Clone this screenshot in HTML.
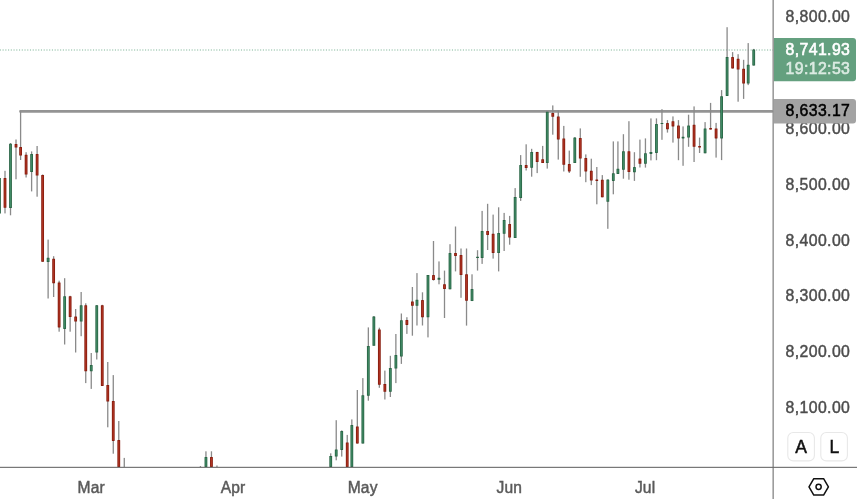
<!DOCTYPE html>
<html lang="en">
<head>
<meta charset="utf-8">
<title>Chart</title>
<style>
html,body{margin:0;padding:0;background:#fff;}
body{width:857px;height:499px;overflow:hidden;position:relative;font-family:"Liberation Sans",sans-serif;}
svg{display:block;position:absolute;left:0;top:0;}
text{font-family:"Liberation Sans",sans-serif;letter-spacing:0.4px;}
.ax{font-size:15.8px;fill:#4d4d4d;stroke:#4d4d4d;stroke-width:0.45;}
.tm{font-size:15.6px;letter-spacing:0.15px;fill:#5a5a5a;stroke:#5a5a5a;stroke-width:0.45;}
.btn{font-size:17.5px;fill:#111;stroke:#111;stroke-width:0.5;}
</style>
</head>
<body>
<svg width="857" height="499" viewBox="0 0 857 499">
<rect x="0" y="0" width="857" height="499" fill="#ffffff"/>
<!-- last price dotted line -->
<line x1="-0.18" y1="50" x2="773" y2="50" stroke="#7fb598" stroke-width="1" stroke-dasharray="1.1 1.64"/>
<!-- horizontal ray -->
<rect x="19.2" y="110.1" width="754" height="2.6" rx="1" fill="#949494"/>
<g fill="#8a8a8a">
<rect x="-1.16" y="178.0" width="1.3" height="35.5"/>
<rect x="4.35" y="170.8" width="1.3" height="42.6"/>
<rect x="9.86" y="143.0" width="1.3" height="72.3"/>
<rect x="15.36" y="139.5" width="1.3" height="39.8"/>
<rect x="19.95" y="111.4" width="1.3" height="48.6"/>
<rect x="25.45" y="152.2" width="1.3" height="25.3"/>
<rect x="30.96" y="151.4" width="1.3" height="40.0"/>
<rect x="36.46" y="146.0" width="1.3" height="50.7"/>
<rect x="41.97" y="174.5" width="1.3" height="87.3"/>
<rect x="47.47" y="239.6" width="1.3" height="58.9"/>
<rect x="52.98" y="256.2" width="1.3" height="40.8"/>
<rect x="58.48" y="280.7" width="1.3" height="51.0"/>
<rect x="63.99" y="278.2" width="1.3" height="66.3"/>
<rect x="69.49" y="295.8" width="1.3" height="35.9"/>
<rect x="75.00" y="309.0" width="1.3" height="43.5"/>
<rect x="80.51" y="292.0" width="1.3" height="44.2"/>
<rect x="85.09" y="303.3" width="1.3" height="79.8"/>
<rect x="90.60" y="353.0" width="1.3" height="35.9"/>
<rect x="96.10" y="305.0" width="1.3" height="54.5"/>
<rect x="101.61" y="304.8" width="1.3" height="81.1"/>
<rect x="107.11" y="362.0" width="1.3" height="65.3"/>
<rect x="112.62" y="375.1" width="1.3" height="78.6"/>
<rect x="118.12" y="421.0" width="1.3" height="46.0"/>
<rect x="123.63" y="457.9" width="1.3" height="9.1"/>
<rect x="199.78" y="466.0" width="1.3" height="1.0"/>
<rect x="205.29" y="451.3" width="1.3" height="15.7"/>
<rect x="210.80" y="451.3" width="1.3" height="15.7"/>
<rect x="216.30" y="465.5" width="1.3" height="1.5"/>
<rect x="330.07" y="453.3" width="1.3" height="13.7"/>
<rect x="335.58" y="420.2" width="1.3" height="40.1"/>
<rect x="341.08" y="430.4" width="1.3" height="26.2"/>
<rect x="346.59" y="434.9" width="1.3" height="32.1"/>
<rect x="351.18" y="419.4" width="1.3" height="47.6"/>
<rect x="356.68" y="390.0" width="1.3" height="53.6"/>
<rect x="362.19" y="378.1" width="1.3" height="65.5"/>
<rect x="367.69" y="327.4" width="1.3" height="73.3"/>
<rect x="373.20" y="316.0" width="1.3" height="29.7"/>
<rect x="378.70" y="327.7" width="1.3" height="60.1"/>
<rect x="384.21" y="370.6" width="1.3" height="28.9"/>
<rect x="389.71" y="355.8" width="1.3" height="41.2"/>
<rect x="395.22" y="334.0" width="1.3" height="49.1"/>
<rect x="400.72" y="313.5" width="1.3" height="50.4"/>
<rect x="406.23" y="317.2" width="1.3" height="16.7"/>
<rect x="411.74" y="287.0" width="1.3" height="48.7"/>
<rect x="416.32" y="273.1" width="1.3" height="52.4"/>
<rect x="421.83" y="292.3" width="1.3" height="33.2"/>
<rect x="427.33" y="275.0" width="1.3" height="62.4"/>
<rect x="432.84" y="241.0" width="1.3" height="39.6"/>
<rect x="438.34" y="261.4" width="1.3" height="22.9"/>
<rect x="443.85" y="270.6" width="1.3" height="47.4"/>
<rect x="449.35" y="244.2" width="1.3" height="45.1"/>
<rect x="454.86" y="226.5" width="1.3" height="44.9"/>
<rect x="460.36" y="248.5" width="1.3" height="49.3"/>
<rect x="465.87" y="248.5" width="1.3" height="77.1"/>
<rect x="471.37" y="274.3" width="1.3" height="26.8"/>
<rect x="476.88" y="250.2" width="1.3" height="20.4"/>
<rect x="481.47" y="210.9" width="1.3" height="53.0"/>
<rect x="486.97" y="203.8" width="1.3" height="46.2"/>
<rect x="492.48" y="214.6" width="1.3" height="44.0"/>
<rect x="497.98" y="207.3" width="1.3" height="64.1"/>
<rect x="503.49" y="212.9" width="1.3" height="38.1"/>
<rect x="508.99" y="215.9" width="1.3" height="28.8"/>
<rect x="514.50" y="188.1" width="1.3" height="49.9"/>
<rect x="520.00" y="155.1" width="1.3" height="45.8"/>
<rect x="525.51" y="144.3" width="1.3" height="26.2"/>
<rect x="531.01" y="148.8" width="1.3" height="27.9"/>
<rect x="536.52" y="151.8" width="1.3" height="21.3"/>
<rect x="542.02" y="145.9" width="1.3" height="17.1"/>
<rect x="546.61" y="111.7" width="1.3" height="56.9"/>
<rect x="552.12" y="105.4" width="1.3" height="29.3"/>
<rect x="557.62" y="110.4" width="1.3" height="49.2"/>
<rect x="563.13" y="125.9" width="1.3" height="45.6"/>
<rect x="568.63" y="150.6" width="1.3" height="22.4"/>
<rect x="574.14" y="137.2" width="1.3" height="25.8"/>
<rect x="579.64" y="128.4" width="1.3" height="48.4"/>
<rect x="585.15" y="154.4" width="1.3" height="27.8"/>
<rect x="590.65" y="158.7" width="1.3" height="26.4"/>
<rect x="596.16" y="167.0" width="1.3" height="37.3"/>
<rect x="601.66" y="175.1" width="1.3" height="22.2"/>
<rect x="607.17" y="179.6" width="1.3" height="49.2"/>
<rect x="612.67" y="141.4" width="1.3" height="52.9"/>
<rect x="617.26" y="141.4" width="1.3" height="32.5"/>
<rect x="622.77" y="134.2" width="1.3" height="44.5"/>
<rect x="628.27" y="121.2" width="1.3" height="58.5"/>
<rect x="633.78" y="152.2" width="1.3" height="28.7"/>
<rect x="639.28" y="139.6" width="1.3" height="27.9"/>
<rect x="644.79" y="138.4" width="1.3" height="29.2"/>
<rect x="650.29" y="118.4" width="1.3" height="42.0"/>
<rect x="655.80" y="118.4" width="1.3" height="41.8"/>
<rect x="661.30" y="109.2" width="1.3" height="30.6"/>
<rect x="666.81" y="120.1" width="1.3" height="12.5"/>
<rect x="672.31" y="116.4" width="1.3" height="26.2"/>
<rect x="677.82" y="120.1" width="1.3" height="40.1"/>
<rect x="682.41" y="126.4" width="1.3" height="39.4"/>
<rect x="687.91" y="114.7" width="1.3" height="32.1"/>
<rect x="693.42" y="106.4" width="1.3" height="55.6"/>
<rect x="698.92" y="137.6" width="1.3" height="15.4"/>
<rect x="704.43" y="122.1" width="1.3" height="31.2"/>
<rect x="709.93" y="102.9" width="1.3" height="26.7"/>
<rect x="715.44" y="122.9" width="1.3" height="34.7"/>
<rect x="720.94" y="90.1" width="1.3" height="70.0"/>
<rect x="726.45" y="27.2" width="1.3" height="68.7"/>
<rect x="731.95" y="52.1" width="1.3" height="16.3"/>
<rect x="737.46" y="54.2" width="1.3" height="47.5"/>
<rect x="742.96" y="59.8" width="1.3" height="39.1"/>
<rect x="747.55" y="43.1" width="1.3" height="42.0"/>
<rect x="753.06" y="48.9" width="1.3" height="16.7"/>
</g>
<g>
<rect x="-1.91" y="178.0" width="2.8" height="35.5" rx="0.3" fill="#2a6646"/>
<rect x="-1.06" y="178.9" width="1.1" height="33.7" fill="#418b66"/>
<rect x="3.60" y="178.0" width="2.8" height="29.8" rx="0.3" fill="#881c0e"/>
<rect x="4.45" y="178.9" width="1.1" height="28.0" fill="#b03524"/>
<rect x="9.11" y="143.7" width="2.8" height="64.3" rx="0.3" fill="#2a6646"/>
<rect x="9.96" y="144.6" width="1.1" height="62.5" fill="#418b66"/>
<rect x="14.61" y="144.0" width="2.8" height="3.5" rx="0.3" fill="#881c0e"/>
<rect x="15.46" y="144.9" width="1.1" height="1.7" fill="#b03524"/>
<rect x="19.20" y="147.0" width="2.8" height="8.6" rx="0.3" fill="#881c0e"/>
<rect x="20.05" y="147.9" width="1.1" height="6.8" fill="#b03524"/>
<rect x="24.70" y="154.7" width="2.8" height="19.9" rx="0.3" fill="#881c0e"/>
<rect x="25.55" y="155.6" width="1.1" height="18.1" fill="#b03524"/>
<rect x="30.21" y="154.0" width="2.8" height="18.0" rx="0.3" fill="#2a6646"/>
<rect x="31.06" y="154.9" width="1.1" height="16.2" fill="#418b66"/>
<rect x="35.71" y="154.0" width="2.8" height="21.6" rx="0.3" fill="#881c0e"/>
<rect x="36.56" y="154.9" width="1.1" height="19.8" fill="#b03524"/>
<rect x="41.22" y="175.0" width="2.8" height="86.8" rx="0.3" fill="#881c0e"/>
<rect x="42.07" y="175.9" width="1.1" height="85.0" fill="#b03524"/>
<rect x="46.72" y="257.7" width="2.8" height="4.3" rx="0.3" fill="#2a6646"/>
<rect x="47.57" y="258.6" width="1.1" height="2.5" fill="#418b66"/>
<rect x="52.23" y="258.7" width="2.8" height="24.5" rx="0.3" fill="#881c0e"/>
<rect x="53.08" y="259.6" width="1.1" height="22.7" fill="#b03524"/>
<rect x="57.73" y="282.5" width="2.8" height="44.9" rx="0.3" fill="#881c0e"/>
<rect x="58.58" y="283.4" width="1.1" height="43.1" fill="#b03524"/>
<rect x="63.24" y="296.3" width="2.8" height="32.6" rx="0.3" fill="#2a6646"/>
<rect x="64.09" y="297.2" width="1.1" height="30.8" fill="#418b66"/>
<rect x="68.74" y="296.3" width="2.8" height="20.8" rx="0.3" fill="#881c0e"/>
<rect x="69.59" y="297.2" width="1.1" height="19.0" fill="#b03524"/>
<rect x="74.25" y="316.6" width="2.8" height="5.0" rx="0.3" fill="#881c0e"/>
<rect x="75.10" y="317.5" width="1.1" height="3.2" fill="#b03524"/>
<rect x="79.76" y="305.3" width="2.8" height="16.3" rx="0.3" fill="#2a6646"/>
<rect x="80.61" y="306.2" width="1.1" height="14.5" fill="#418b66"/>
<rect x="84.34" y="305.3" width="2.8" height="66.0" rx="0.3" fill="#881c0e"/>
<rect x="85.19" y="306.2" width="1.1" height="64.2" fill="#b03524"/>
<rect x="89.85" y="365.0" width="2.8" height="6.3" rx="0.3" fill="#2a6646"/>
<rect x="90.70" y="365.9" width="1.1" height="4.5" fill="#418b66"/>
<rect x="95.35" y="305.3" width="2.8" height="47.2" rx="0.3" fill="#2a6646"/>
<rect x="96.20" y="306.2" width="1.1" height="45.4" fill="#418b66"/>
<rect x="100.86" y="305.3" width="2.8" height="80.6" rx="0.3" fill="#881c0e"/>
<rect x="101.71" y="306.2" width="1.1" height="78.8" fill="#b03524"/>
<rect x="106.36" y="385.1" width="2.8" height="16.4" rx="0.3" fill="#881c0e"/>
<rect x="107.21" y="386.0" width="1.1" height="14.6" fill="#b03524"/>
<rect x="111.87" y="401.0" width="2.8" height="39.9" rx="0.3" fill="#881c0e"/>
<rect x="112.72" y="401.9" width="1.1" height="38.1" fill="#b03524"/>
<rect x="117.37" y="439.9" width="2.8" height="27.1" rx="0.3" fill="#881c0e"/>
<rect x="118.22" y="440.8" width="1.1" height="25.3" fill="#b03524"/>
<rect x="204.54" y="457.0" width="2.8" height="10.0" rx="0.3" fill="#2a6646"/>
<rect x="205.39" y="457.9" width="1.1" height="8.2" fill="#418b66"/>
<rect x="210.05" y="457.0" width="2.8" height="10.0" rx="0.3" fill="#881c0e"/>
<rect x="210.90" y="457.9" width="1.1" height="8.2" fill="#b03524"/>
<rect x="329.32" y="456.1" width="2.8" height="10.9" rx="0.3" fill="#2a6646"/>
<rect x="330.17" y="457.0" width="1.1" height="9.1" fill="#418b66"/>
<rect x="334.83" y="449.4" width="2.8" height="7.2" rx="0.3" fill="#2a6646"/>
<rect x="335.68" y="450.3" width="1.1" height="5.4" fill="#418b66"/>
<rect x="340.33" y="431.0" width="2.8" height="18.9" rx="0.3" fill="#2a6646"/>
<rect x="341.18" y="431.9" width="1.1" height="17.1" fill="#418b66"/>
<rect x="345.84" y="442.4" width="2.8" height="24.6" rx="0.3" fill="#881c0e"/>
<rect x="346.69" y="443.3" width="1.1" height="22.8" fill="#b03524"/>
<rect x="350.43" y="424.9" width="2.8" height="42.1" rx="0.3" fill="#2a6646"/>
<rect x="351.28" y="425.8" width="1.1" height="40.3" fill="#418b66"/>
<rect x="355.93" y="426.5" width="2.8" height="17.1" rx="0.3" fill="#881c0e"/>
<rect x="356.78" y="427.4" width="1.1" height="15.3" fill="#b03524"/>
<rect x="361.44" y="395.3" width="2.8" height="48.3" rx="0.3" fill="#2a6646"/>
<rect x="362.29" y="396.2" width="1.1" height="46.5" fill="#418b66"/>
<rect x="366.94" y="346.1" width="2.8" height="49.6" rx="0.3" fill="#2a6646"/>
<rect x="367.79" y="347.0" width="1.1" height="47.8" fill="#418b66"/>
<rect x="372.45" y="316.5" width="2.8" height="29.2" rx="0.3" fill="#2a6646"/>
<rect x="373.30" y="317.4" width="1.1" height="27.4" fill="#418b66"/>
<rect x="377.95" y="329.4" width="2.8" height="55.4" rx="0.3" fill="#881c0e"/>
<rect x="378.80" y="330.3" width="1.1" height="53.6" fill="#b03524"/>
<rect x="383.46" y="384.1" width="2.8" height="7.6" rx="0.3" fill="#881c0e"/>
<rect x="384.31" y="385.0" width="1.1" height="5.8" fill="#b03524"/>
<rect x="388.96" y="368.1" width="2.8" height="23.6" rx="0.3" fill="#2a6646"/>
<rect x="389.81" y="369.0" width="1.1" height="21.8" fill="#418b66"/>
<rect x="394.47" y="354.9" width="2.8" height="13.7" rx="0.3" fill="#2a6646"/>
<rect x="395.32" y="355.8" width="1.1" height="11.9" fill="#418b66"/>
<rect x="399.97" y="320.2" width="2.8" height="36.4" rx="0.3" fill="#2a6646"/>
<rect x="400.82" y="321.1" width="1.1" height="34.6" fill="#418b66"/>
<rect x="405.48" y="319.9" width="2.8" height="5.0" rx="0.3" fill="#881c0e"/>
<rect x="406.33" y="320.8" width="1.1" height="3.2" fill="#b03524"/>
<rect x="410.99" y="301.5" width="2.8" height="4.2" rx="0.3" fill="#881c0e"/>
<rect x="411.84" y="302.4" width="1.1" height="2.4" fill="#b03524"/>
<rect x="415.57" y="299.8" width="2.8" height="5.9" rx="0.3" fill="#2a6646"/>
<rect x="416.42" y="300.7" width="1.1" height="4.1" fill="#418b66"/>
<rect x="421.08" y="300.1" width="2.8" height="17.1" rx="0.3" fill="#881c0e"/>
<rect x="421.93" y="301.0" width="1.1" height="15.3" fill="#b03524"/>
<rect x="426.58" y="275.1" width="2.8" height="42.1" rx="0.3" fill="#2a6646"/>
<rect x="427.43" y="276.0" width="1.1" height="40.3" fill="#418b66"/>
<rect x="432.09" y="275.1" width="2.8" height="5.0" rx="0.3" fill="#881c0e"/>
<rect x="432.94" y="276.0" width="1.1" height="3.2" fill="#b03524"/>
<rect x="437.59" y="277.8" width="2.8" height="2.0" rx="0.3" fill="#2a6646"/>
<rect x="443.10" y="284.3" width="2.8" height="4.7" rx="0.3" fill="#881c0e"/>
<rect x="443.95" y="285.2" width="1.1" height="2.9" fill="#b03524"/>
<rect x="448.60" y="253.0" width="2.8" height="36.3" rx="0.3" fill="#2a6646"/>
<rect x="449.45" y="253.9" width="1.1" height="34.5" fill="#418b66"/>
<rect x="454.11" y="253.0" width="2.8" height="2.9" rx="0.3" fill="#881c0e"/>
<rect x="454.96" y="253.9" width="1.1" height="1.1" fill="#b03524"/>
<rect x="459.61" y="255.0" width="2.8" height="20.1" rx="0.3" fill="#881c0e"/>
<rect x="460.46" y="255.9" width="1.1" height="18.3" fill="#b03524"/>
<rect x="465.12" y="274.3" width="2.8" height="26.4" rx="0.3" fill="#881c0e"/>
<rect x="465.97" y="275.2" width="1.1" height="24.6" fill="#b03524"/>
<rect x="470.62" y="289.0" width="2.8" height="12.1" rx="0.3" fill="#2a6646"/>
<rect x="471.47" y="289.9" width="1.1" height="10.3" fill="#418b66"/>
<rect x="476.13" y="256.7" width="2.8" height="1.3" rx="0.3" fill="#2a6646"/>
<rect x="480.72" y="231.0" width="2.8" height="27.0" rx="0.3" fill="#2a6646"/>
<rect x="481.57" y="231.9" width="1.1" height="25.2" fill="#418b66"/>
<rect x="486.22" y="230.9" width="2.8" height="4.0" rx="0.3" fill="#881c0e"/>
<rect x="487.07" y="231.8" width="1.1" height="2.2" fill="#b03524"/>
<rect x="491.73" y="233.8" width="2.8" height="19.2" rx="0.3" fill="#881c0e"/>
<rect x="492.58" y="234.7" width="1.1" height="17.4" fill="#b03524"/>
<rect x="497.23" y="233.0" width="2.8" height="20.0" rx="0.3" fill="#2a6646"/>
<rect x="498.08" y="233.9" width="1.1" height="18.2" fill="#418b66"/>
<rect x="502.74" y="220.1" width="2.8" height="13.7" rx="0.3" fill="#2a6646"/>
<rect x="503.59" y="221.0" width="1.1" height="11.9" fill="#418b66"/>
<rect x="508.24" y="224.0" width="2.8" height="13.6" rx="0.3" fill="#881c0e"/>
<rect x="509.09" y="224.9" width="1.1" height="11.8" fill="#b03524"/>
<rect x="513.75" y="197.1" width="2.8" height="40.9" rx="0.3" fill="#2a6646"/>
<rect x="514.60" y="198.0" width="1.1" height="39.1" fill="#418b66"/>
<rect x="519.25" y="165.0" width="2.8" height="33.1" rx="0.3" fill="#2a6646"/>
<rect x="520.10" y="165.9" width="1.1" height="31.3" fill="#418b66"/>
<rect x="524.76" y="165.0" width="2.8" height="3.0" rx="0.3" fill="#881c0e"/>
<rect x="525.61" y="165.9" width="1.1" height="1.2" fill="#b03524"/>
<rect x="530.26" y="152.1" width="2.8" height="15.6" rx="0.3" fill="#2a6646"/>
<rect x="531.11" y="153.0" width="1.1" height="13.8" fill="#418b66"/>
<rect x="535.77" y="152.1" width="2.8" height="9.9" rx="0.3" fill="#881c0e"/>
<rect x="536.62" y="153.0" width="1.1" height="8.1" fill="#b03524"/>
<rect x="541.27" y="159.3" width="2.8" height="3.7" rx="0.3" fill="#881c0e"/>
<rect x="542.12" y="160.2" width="1.1" height="1.9" fill="#b03524"/>
<rect x="545.86" y="111.7" width="2.8" height="51.3" rx="0.3" fill="#2a6646"/>
<rect x="546.71" y="112.6" width="1.1" height="49.5" fill="#418b66"/>
<rect x="551.37" y="112.9" width="2.8" height="3.8" rx="0.3" fill="#881c0e"/>
<rect x="552.22" y="113.8" width="1.1" height="2.0" fill="#b03524"/>
<rect x="556.87" y="116.4" width="2.8" height="23.2" rx="0.3" fill="#881c0e"/>
<rect x="557.72" y="117.3" width="1.1" height="21.4" fill="#b03524"/>
<rect x="562.38" y="138.4" width="2.8" height="26.4" rx="0.3" fill="#881c0e"/>
<rect x="563.23" y="139.3" width="1.1" height="24.6" fill="#b03524"/>
<rect x="567.88" y="164.0" width="2.8" height="7.4" rx="0.3" fill="#881c0e"/>
<rect x="568.73" y="164.9" width="1.1" height="5.6" fill="#b03524"/>
<rect x="573.39" y="137.6" width="2.8" height="25.4" rx="0.3" fill="#2a6646"/>
<rect x="574.24" y="138.5" width="1.1" height="23.6" fill="#418b66"/>
<rect x="578.89" y="137.9" width="2.8" height="20.7" rx="0.3" fill="#881c0e"/>
<rect x="579.74" y="138.8" width="1.1" height="18.9" fill="#b03524"/>
<rect x="584.40" y="157.9" width="2.8" height="13.5" rx="0.3" fill="#881c0e"/>
<rect x="585.25" y="158.8" width="1.1" height="11.7" fill="#b03524"/>
<rect x="589.90" y="170.7" width="2.8" height="9.9" rx="0.3" fill="#881c0e"/>
<rect x="590.75" y="171.6" width="1.1" height="8.1" fill="#b03524"/>
<rect x="595.41" y="179.6" width="2.8" height="1.3" rx="0.3" fill="#881c0e"/>
<rect x="600.91" y="179.7" width="2.8" height="17.6" rx="0.3" fill="#881c0e"/>
<rect x="601.76" y="180.6" width="1.1" height="15.8" fill="#b03524"/>
<rect x="606.42" y="179.6" width="2.8" height="22.2" rx="0.3" fill="#2a6646"/>
<rect x="607.27" y="180.5" width="1.1" height="20.4" fill="#418b66"/>
<rect x="611.92" y="173.3" width="2.8" height="7.6" rx="0.3" fill="#2a6646"/>
<rect x="612.77" y="174.2" width="1.1" height="5.8" fill="#418b66"/>
<rect x="616.51" y="168.8" width="2.8" height="5.1" rx="0.3" fill="#2a6646"/>
<rect x="617.36" y="169.7" width="1.1" height="3.3" fill="#418b66"/>
<rect x="622.02" y="151.3" width="2.8" height="18.4" rx="0.3" fill="#2a6646"/>
<rect x="622.87" y="152.2" width="1.1" height="16.6" fill="#418b66"/>
<rect x="627.52" y="151.3" width="2.8" height="20.8" rx="0.3" fill="#881c0e"/>
<rect x="628.37" y="152.2" width="1.1" height="19.0" fill="#b03524"/>
<rect x="633.03" y="167.1" width="2.8" height="5.1" rx="0.3" fill="#2a6646"/>
<rect x="633.88" y="168.0" width="1.1" height="3.3" fill="#418b66"/>
<rect x="638.53" y="158.6" width="2.8" height="5.2" rx="0.3" fill="#881c0e"/>
<rect x="639.38" y="159.5" width="1.1" height="3.4" fill="#b03524"/>
<rect x="644.04" y="153.2" width="2.8" height="10.6" rx="0.3" fill="#2a6646"/>
<rect x="644.89" y="154.1" width="1.1" height="8.8" fill="#418b66"/>
<rect x="649.54" y="152.1" width="2.8" height="1.8" rx="0.3" fill="#2a6646"/>
<rect x="655.05" y="123.9" width="2.8" height="29.0" rx="0.3" fill="#2a6646"/>
<rect x="655.90" y="124.8" width="1.1" height="27.2" fill="#418b66"/>
<rect x="660.55" y="122.9" width="2.8" height="1.2" rx="0.3" fill="#2a6646"/>
<rect x="666.06" y="123.1" width="2.8" height="6.1" rx="0.3" fill="#881c0e"/>
<rect x="666.91" y="124.0" width="1.1" height="4.3" fill="#b03524"/>
<rect x="671.56" y="121.2" width="2.8" height="5.2" rx="0.3" fill="#881c0e"/>
<rect x="672.41" y="122.1" width="1.1" height="3.4" fill="#b03524"/>
<rect x="677.07" y="125.6" width="2.8" height="12.8" rx="0.3" fill="#881c0e"/>
<rect x="677.92" y="126.5" width="1.1" height="11.0" fill="#b03524"/>
<rect x="681.66" y="136.8" width="2.8" height="1.6" rx="0.3" fill="#2a6646"/>
<rect x="687.16" y="125.6" width="2.8" height="12.0" rx="0.3" fill="#2a6646"/>
<rect x="688.01" y="126.5" width="1.1" height="10.2" fill="#418b66"/>
<rect x="692.67" y="124.7" width="2.8" height="22.1" rx="0.3" fill="#881c0e"/>
<rect x="693.52" y="125.6" width="1.1" height="20.3" fill="#b03524"/>
<rect x="698.17" y="145.9" width="2.8" height="1.7" rx="0.3" fill="#881c0e"/>
<rect x="703.68" y="128.4" width="2.8" height="24.9" rx="0.3" fill="#2a6646"/>
<rect x="704.53" y="129.3" width="1.1" height="23.1" fill="#418b66"/>
<rect x="709.18" y="128.1" width="2.8" height="1.5" rx="0.3" fill="#881c0e"/>
<rect x="714.69" y="128.4" width="2.8" height="10.0" rx="0.3" fill="#881c0e"/>
<rect x="715.54" y="129.3" width="1.1" height="8.2" fill="#b03524"/>
<rect x="720.19" y="96.3" width="2.8" height="42.1" rx="0.3" fill="#2a6646"/>
<rect x="721.04" y="97.2" width="1.1" height="40.3" fill="#418b66"/>
<rect x="725.70" y="57.1" width="2.8" height="38.8" rx="0.3" fill="#2a6646"/>
<rect x="726.55" y="58.0" width="1.1" height="37.0" fill="#418b66"/>
<rect x="731.20" y="57.1" width="2.8" height="11.3" rx="0.3" fill="#881c0e"/>
<rect x="732.05" y="58.0" width="1.1" height="9.5" fill="#b03524"/>
<rect x="736.71" y="58.8" width="2.8" height="10.8" rx="0.3" fill="#881c0e"/>
<rect x="737.56" y="59.7" width="1.1" height="9.0" fill="#b03524"/>
<rect x="742.21" y="68.8" width="2.8" height="14.7" rx="0.3" fill="#881c0e"/>
<rect x="743.06" y="69.7" width="1.1" height="12.9" fill="#b03524"/>
<rect x="746.80" y="64.8" width="2.8" height="18.7" rx="0.3" fill="#2a6646"/>
<rect x="747.65" y="65.7" width="1.1" height="16.9" fill="#418b66"/>
<rect x="752.31" y="49.6" width="2.8" height="16.0" rx="0.3" fill="#2a6646"/>
<rect x="753.16" y="50.5" width="1.1" height="14.2" fill="#418b66"/>
</g>
<!-- price scale -->
<rect x="773.7" y="0" width="84" height="467" fill="#ffffff"/>
<text x="785.6" y="21.8" class="ax">8,800.00</text>
<text x="785.6" y="133.5" class="ax">8,600.00</text>
<text x="785.6" y="189.5" class="ax">8,500.00</text>
<text x="785.6" y="245.5" class="ax">8,400.00</text>
<text x="785.6" y="300.6" class="ax">8,300.00</text>
<text x="785.6" y="356.5" class="ax">8,200.00</text>
<text x="785.6" y="412.5" class="ax">8,100.00</text>
<path d="M773.8 37.9H853a3 3 0 0 1 3 3V78.3a3 3 0 0 1-3 3H773.8Z" fill="#64a07f"/>
<text x="785.6" y="54.8" font-size="15.8" fill="#ffffff" stroke="#ffffff" stroke-width="0.6">8,741.93</text>
<text x="785.6" y="74.2" font-size="15.8" fill="#dcebe3" stroke="#dcebe3" stroke-width="0.6">19:12:53</text>
<path d="M773.8 99.1H853a3 3 0 0 1 3 3V120.6a3 3 0 0 1-3 3H773.8Z" fill="#a3a3a3"/>
<text x="785.6" y="116.2" font-size="15.8" fill="#000000" stroke="#000000" stroke-width="0.5">8,633.17</text>
<!-- axes -->
<rect x="772.5" y="0" width="1.3" height="499" fill="#858585"/>
<rect x="0" y="466.8" width="857" height="1.1" fill="#6a6a6a"/>
<!-- time labels -->
<text x="91.25" y="492.6" class="tm" text-anchor="middle">Mar</text>
<text x="233" y="492.6" class="tm" text-anchor="middle">Apr</text>
<text x="362.7" y="492.6" class="tm" text-anchor="middle">May</text>
<text x="509.4" y="492.6" class="tm" text-anchor="middle">Jun</text>
<text x="645.1" y="492.6" class="tm" text-anchor="middle">Jul</text>
<!-- A / L buttons -->
<rect x="787.8" y="432.5" width="26.6" height="28.4" rx="5.5" fill="#ffffff" stroke="#e8e8e8" stroke-width="1.1"/>
<rect x="820.8" y="432.5" width="26.6" height="28.4" rx="5.5" fill="#ffffff" stroke="#e8e8e8" stroke-width="1.1"/>
<text x="801.2" y="452.7" class="btn" text-anchor="middle">A</text>
<text x="834.6" y="452.7" class="btn" text-anchor="middle">L</text>
<!-- settings icon -->
<g fill="none" stroke="#111111" stroke-width="1.5" stroke-linejoin="round">
<path d="M809.0 486.8 L813.8 478.7 H823.6 L828.4 486.8 L823.6 495.1 H813.8 Z"/>
<circle cx="818.6" cy="486.8" r="2.6"/>
</g>
</svg>
</body>
</html>
